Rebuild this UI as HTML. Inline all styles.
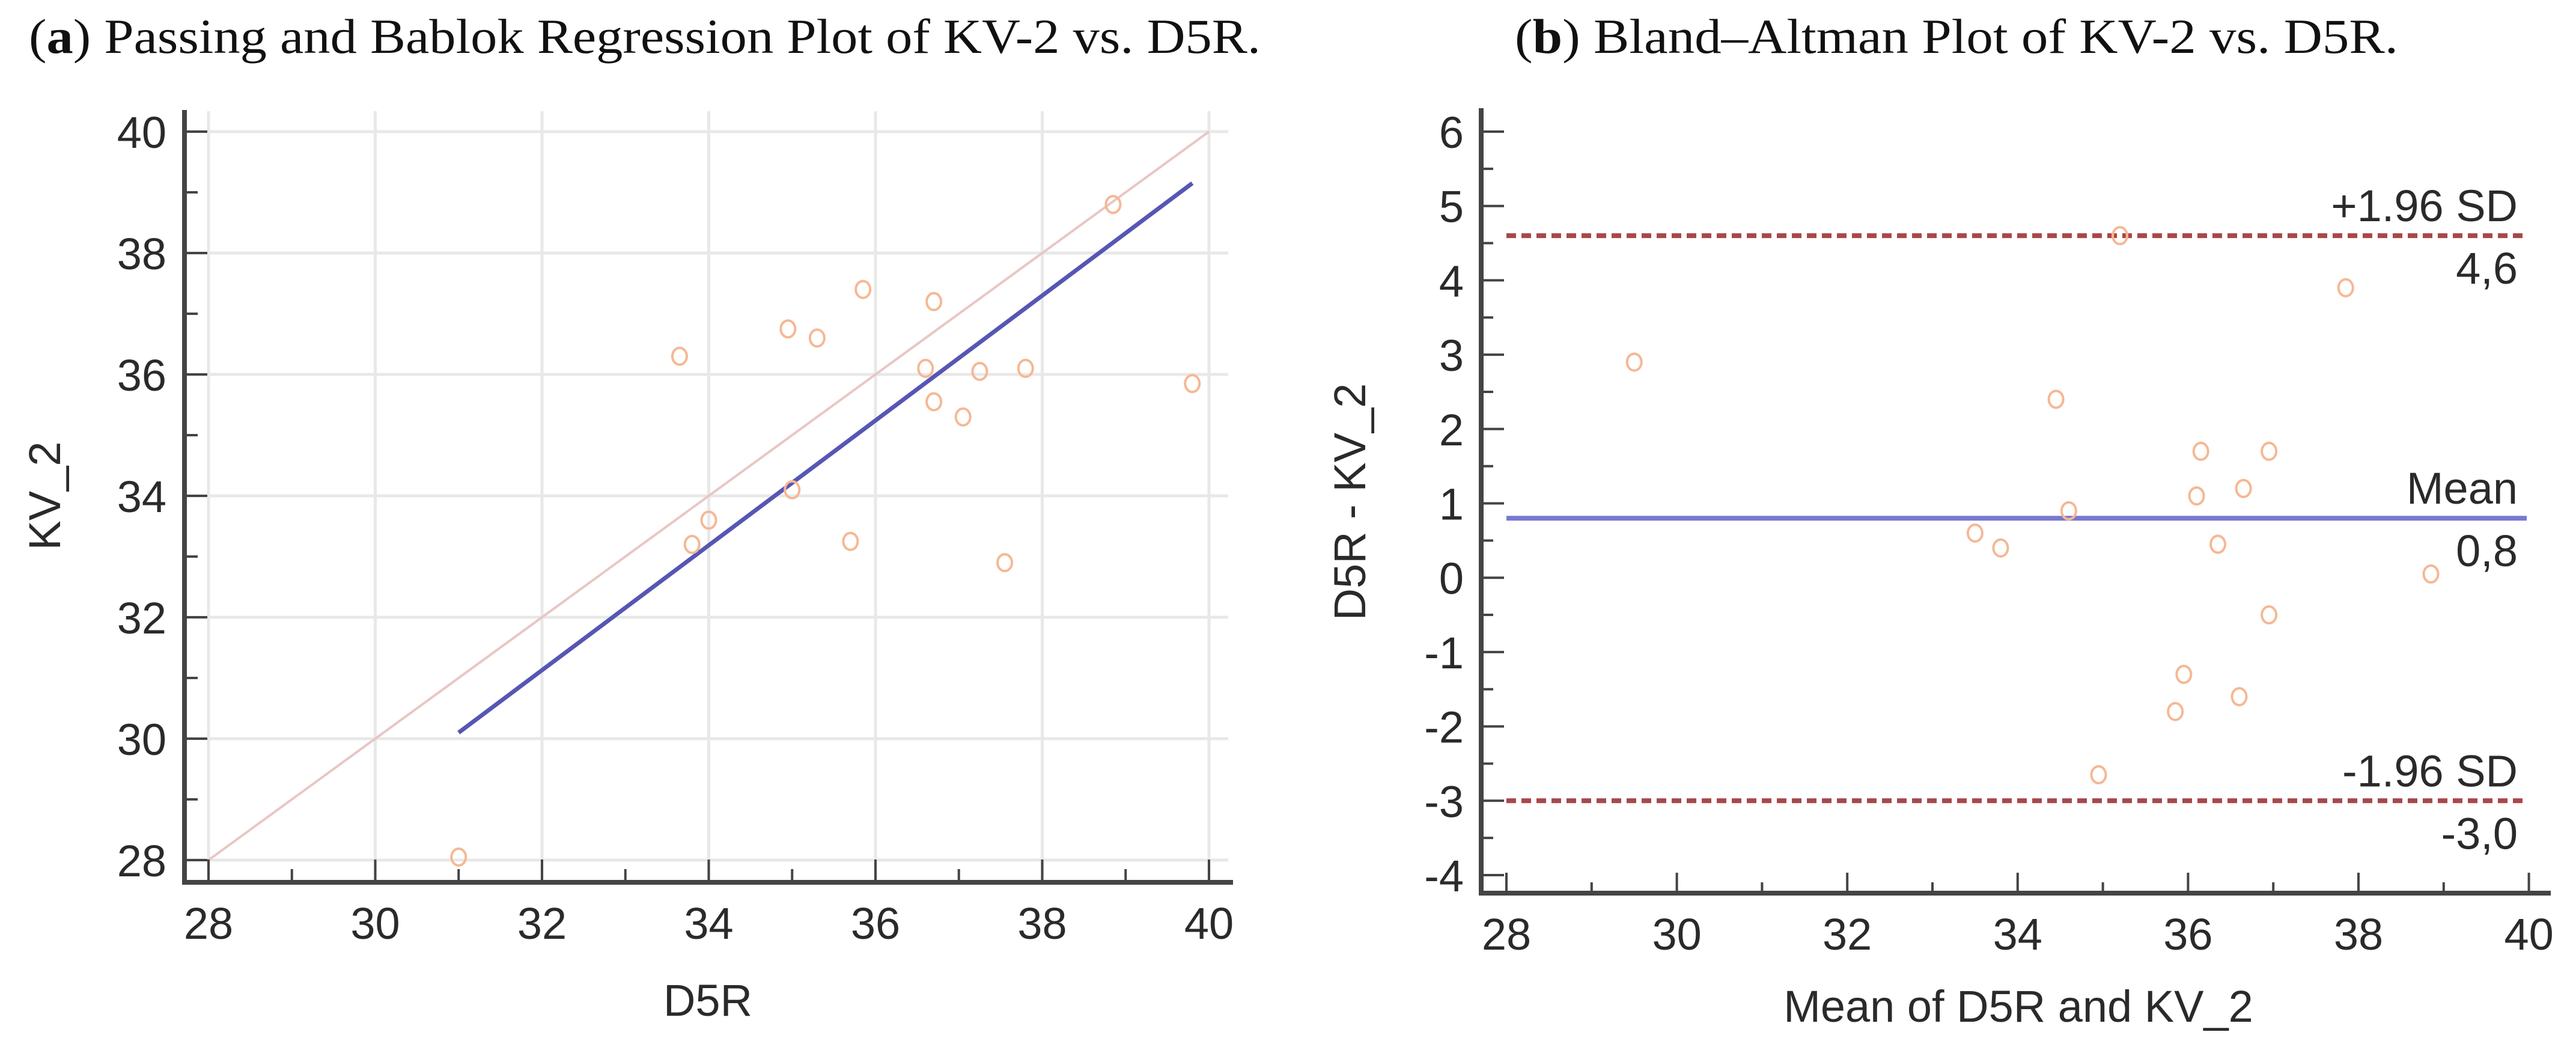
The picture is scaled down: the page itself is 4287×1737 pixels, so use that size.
<!DOCTYPE html>
<html><head><meta charset="utf-8"><style>
html,body{margin:0;padding:0;background:#fff;}
svg{display:block;}
text{font-family:"Liberation Sans",Arial,sans-serif;fill:#2a2a2a;}
.ttl{font-family:"Liberation Serif",serif;fill:#111;}
</style></head><body>
<svg id="fig" width="4287" height="1737" viewBox="0 0 4287 1737" xmlns="http://www.w3.org/2000/svg">
<text class="ttl" x="48" y="88" font-size="82" textLength="2050" lengthAdjust="spacingAndGlyphs">(<tspan font-weight="bold">a</tspan>) Passing and Bablok Regression Plot of KV-2 vs. D5R.</text>
<text class="ttl" x="2521" y="88" font-size="82" textLength="1470" lengthAdjust="spacingAndGlyphs">(<tspan font-weight="bold">b</tspan>) Bland–Altman Plot of KV-2 vs. D5R.</text>
<g id="ga"></g>
<g id="gb"></g>
</svg>
<script>
const NS="http://www.w3.org/2000/svg";
// Chart A data
const aD5R=[31.0,33.65,33.8,34.0,34.95,35.0,35.3,35.7,35.85,36.6,36.7,36.7,37.05,37.25,37.55,37.8,38.85,39.8];
const aKV2=[28.05,36.3,33.2,33.6,36.75,34.1,36.6,33.25,37.4,36.1,37.2,35.55,35.3,36.05,32.9,36.1,38.8,35.85];
const aRegX=[31.0,39.8];
const aRegY=[30.1,39.15];
const aIdent=[28,40];
const aXTicks=[28,30,32,34,36,38,40];
const aYTicks=[28,30,32,34,36,38,40];
// Chart B data
const bMean=[29.5,33.5,33.8,34.45,34.6,34.95,35.2,35.85,35.95,36.1,36.15,36.35,36.6,36.65,36.95,36.95,37.85,38.85];
const bDiff=[2.9,0.6,0.4,2.4,0.9,-2.65,4.6,-1.8,-1.3,1.1,1.7,0.45,-1.6,1.2,1.7,-0.5,3.9,0.05];
const bLimits=[4.6,0.8,-3.0];
const bLimitNames=["+1.96 SD","Mean","-1.96 SD"];
const bLimitVals=["4,6","0,8","-3,0"];
const bXTicks=[28,30,32,34,36,38,40];
const bYTicks=[-4,-3,-2,-1,0,1,2,3,4,5,6];

const FS=74;
function mk(parent,tag,attrs,txt){const e=document.createElementNS(NS,tag);for(const k in attrs)e.setAttribute(k,attrs[k]);if(txt!==undefined)e.textContent=txt;parent.appendChild(e);return e;}

// ---- Chart A ----
const ga=document.getElementById('ga');
const ax=v=>347+(v-28)*138.75, ay=v=>219+(40-v)*101;
aXTicks.forEach(t=>{const l=mk(ga,'line',{x1:ax(t),x2:ax(t),y1:185,y2:1468,stroke:'#e8e8e8','stroke-width':5});
});
aYTicks.forEach(t=>{const l=mk(ga,'line',{x1:307,x2:2044,y1:ay(t),y2:ay(t),stroke:'#e8e8e8','stroke-width':5});
});
let e=mk(ga,'line',{x1:ax(aIdent[0]),y1:ay(aIdent[0]),x2:ax(aIdent[1]),y2:ay(aIdent[1]),stroke:'#e8c6c4','stroke-width':4});

e=mk(ga,'line',{x1:ax(aRegX[0]),y1:ay(aRegY[0]),x2:ax(aRegX[1]),y2:ay(aRegY[1]),stroke:'#5656b4','stroke-width':7});

aD5R.forEach((x,i)=>{const c=mk(ga,'ellipse',{cx:ax(x),cy:ay(aKV2[i]),rx:12,ry:14,fill:'none',stroke:'#f5b894','stroke-width':4});
});
e=mk(ga,'line',{x1:307,x2:307,y1:183,y2:1472,stroke:'#444','stroke-width':8});

e=mk(ga,'line',{x1:303,x2:2052,y1:1468,y2:1468,stroke:'#444','stroke-width':8});

for(let v=28;v<=40;v++){const maj=v%2===0;
 let t=mk(ga,'line',{x1:ax(v),x2:ax(v),y1:1468,y2:1468-(maj?38:22),stroke:'#444','stroke-width':4});
 
 t=mk(ga,'line',{x1:307,x2:307+(maj?38:22),y1:ay(v),y2:ay(v),stroke:'#444','stroke-width':4});
 }
aXTicks.forEach(t=>{const l=mk(ga,'text',{x:ax(t),y:1562,'font-size':FS,'text-anchor':'middle'},t);
});
aYTicks.forEach(t=>{const l=mk(ga,'text',{x:277,y:ay(t)+27,'font-size':FS,'text-anchor':'end'},t);
});
e=mk(ga,'text',{x:1178,y:1690,'font-size':FS,'text-anchor':'middle'},'D5R');

e=mk(ga,'text',{x:100,y:825,'font-size':FS,'text-anchor':'middle',transform:'rotate(-90 100 825)'},'KV_2');


// ---- Chart B ----
const gb=document.getElementById('gb');
const bx=v=>2507+(v-28)*141.8, by=v=>219+(6-v)*123.7;
const limColors=['#a84848','#7878d0','#a84848'];
bLimits.forEach((v,i)=>{const l=mk(gb,'line',{x1:2507,x2:4205,y1:by(v),y2:by(v),stroke:limColors[i],'stroke-width':8,'stroke-dasharray':i===1?'none':'16 9'});

let t=mk(gb,'text',{x:4190,y:by(v)-24,'font-size':FS,'text-anchor':'end'},bLimitNames[i]);

t=mk(gb,'text',{x:4190,y:by(v)+80,'font-size':FS,'text-anchor':'end'},bLimitVals[i]);
});
bMean.forEach((x,i)=>{const c=mk(gb,'ellipse',{cx:bx(x),cy:by(bDiff[i]),rx:12,ry:14,fill:'none',stroke:'#f5b894','stroke-width':4});
});
e=mk(gb,'line',{x1:2465,x2:2465,y1:180,y2:1490,stroke:'#444','stroke-width':8});

e=mk(gb,'line',{x1:2461,x2:4245,y1:1486,y2:1486,stroke:'#444','stroke-width':8});

for(let v=28;v<=40;v++){const maj=v%2===0;
 const t=mk(gb,'line',{x1:bx(v),x2:bx(v),y1:1486,y2:1486-(maj?34:18),stroke:'#444','stroke-width':4});
 }
for(let v=-4;v<=6;v+=0.5){const maj=Number.isInteger(v);
 const t=mk(gb,'line',{x1:2465,x2:2465+(maj?38:20),y1:by(v),y2:by(v),stroke:'#444','stroke-width':4});
 }
bXTicks.forEach(t=>{const l=mk(gb,'text',{x:bx(t),y:1580,'font-size':FS,'text-anchor':'middle'},t);
});
bYTicks.forEach(t=>{const l=mk(gb,'text',{x:2436,y:by(t)+27,'font-size':FS,'text-anchor':'end'},t);
});
e=mk(gb,'text',{x:3359,y:1700,'font-size':FS,'text-anchor':'middle'},'Mean of D5R and KV_2');

e=mk(gb,'text',{x:2272,y:835,'font-size':FS,'text-anchor':'middle',transform:'rotate(-90 2272 835)'},'D5R - KV_2');

</script>
</body></html>
